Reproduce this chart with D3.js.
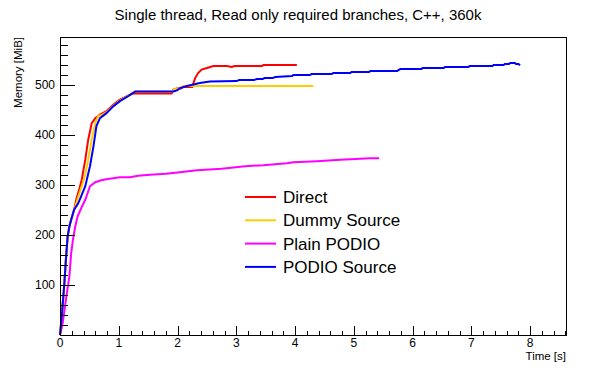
<!DOCTYPE html>
<html>
<head>
<meta charset="utf-8">
<script src="https://cdn.jsdelivr.net/npm/d3@7"></script>
<style>
  body { margin: 0; background: #fff; }
  svg { display: block; font-family: "Liberation Sans", Arial, sans-serif; }
</style>
</head>
<body>
<svg width="596" height="372"></svg>
<script>
// memory vs time, [seconds, MiB]
const direct = [[0,0],[0.034,43],[0.074,103],[0.10,150],[0.13,197],[0.16,217],[0.19,230],[0.24,250],[0.28,272],[0.33,292],
  [0.37,310],[0.43,350],[0.48,390],[0.54,423],[0.60,433],[0.68,440],[0.79,447],[0.91,460],[1.02,470],[1.19,480],[1.25,482],
  [1.90,482],[1.93,490],[2.01,493],[2.05,492],[2.10,495],[2.25,495],[2.27,503],[2.30,513],[2.35,523],[2.41,530],[2.50,533],
  [2.61,537],[2.84,537],[2.92,535],[2.97,537],[3.44,537],[3.46,539],[4.03,539]];
const dummy = [[0,0],[0.034,45],[0.074,105],[0.10,152],[0.13,198],[0.16,218],[0.19,231],[0.24,250],[0.29,268],[0.35,290],
  [0.43,320],[0.48,350],[0.54,390],[0.60,423],[0.65,437],[0.72,440],[0.79,445],[0.91,458],[1.02,468],[1.16,478],[1.28,486],
  [1.92,486],[1.93,490],[2.03,493],[2.10,497],[4.31,497]];
const plainPodio = [[0,0],[0.045,23],[0.10,70],[0.16,117],[0.19,163],[0.22,190],[0.26,217],[0.30,237],[0.36,253],[0.43,270],
  [0.51,297],[0.60,305],[0.70,309],[0.79,311],[1.02,315],[1.19,315],[1.33,318],[1.53,320],[1.80,322],[2.04,325],[2.33,329],
  [2.75,332],[3.15,337],[3.46,339],[3.86,343],[3.97,345],[4.37,347],[4.77,350],[5.28,353],[5.43,353]];
const podioSource = [[0,0],[0.034,43],[0.074,103],[0.10,150],[0.13,197],[0.16,217],[0.19,230],[0.24,250],[0.31,263],[0.37,280],
  [0.43,297],[0.51,337],[0.57,377],[0.62,417],[0.68,433],[0.79,443],[0.91,457],[1.02,467],[1.16,477],[1.28,486],[1.92,486],
  [1.96,487],[2.01,490],[2.04,493],[2.16,497],[2.27,500],[2.38,503],[2.55,506],[3.00,507],[3.05,509],[3.30,509],[3.35,511],
  [3.45,511],[3.48,513],[3.62,513],[3.66,515],[3.95,517],[3.97,519],[4.25,519],[4.28,521],[4.62,521],[4.65,523],[4.94,523],
  [4.96,525],[5.26,525],[5.28,527],[5.74,527],[5.76,529],[5.79,531],[6.15,531],[6.17,533],[6.53,533],[6.55,535],[6.95,535],
  [6.97,537],[7.36,537],[7.38,539],[7.55,539],[7.57,541],[7.64,541],[7.66,543],[7.74,543],[7.76,541],[7.80,541],[7.83,539]];

const seriesNames = ["Direct", "Dummy Source", "Plain PODIO", "PODIO Source"];
const seriesData = [direct, dummy, plainPodio, podioSource];
const colors = ["#ff0000", "#ffcc00", "#ff00ff", "#0000ff"];
const xTicks = [0, 1, 2, 3, 4, 5, 6, 7, 8];
const yTicks = [100, 200, 300, 400, 500];

const svg = d3.select("svg");
const m = { left: 60, right: 566, top: 37, bottom: 335 };

const x = d3.scaleLinear().domain([0, 8.61]).range([m.left, m.right]);
const y = d3.scaleLinear().domain([0, 595]).range([m.bottom, m.top]);

// title
svg.append("text")
  .attr("x", 298).attr("y", 20)
  .attr("text-anchor", "middle")
  .style("font-size", "15px")
  .text("Single thread, Read only required branches, C++, 360k");

// curves
const line = d3.line().x(d => x(d[0])).y(d => y(d[1]));
seriesData.forEach((s, i) => {
  svg.append("path")
    .attr("d", line(s))
    .attr("fill", "none")
    .attr("stroke", colors[i])
    .attr("stroke-width", 2);
});

// frame
svg.append("rect")
  .attr("x", m.left).attr("y", m.top)
  .attr("width", m.right - m.left).attr("height", m.bottom - m.top)
  .attr("fill", "none").attr("stroke", "#000").attr("stroke-width", 1)
  .attr("shape-rendering", "crispEdges");

// x axis, ROOT style ticks pointing in
const xAxis = d3.axisTop(x).tickValues(xTicks).tickSize(9).tickFormat("");
svg.append("g").attr("transform", `translate(0,${m.bottom})`).call(xAxis)
  .call(g => g.select(".domain").remove());
const xMinor = d3.range(0, 8.61, 0.2).filter(v => Math.abs(v - Math.round(v)) > 0.01);
svg.append("g").attr("transform", `translate(0,${m.bottom})`)
  .call(d3.axisTop(x).tickValues(xMinor).tickSize(4.5).tickFormat(""))
  .call(g => g.select(".domain").remove());
svg.selectAll(".xlab").data(xTicks).enter().append("text")
  .attr("x", d => x(d)).attr("y", 347)
  .attr("text-anchor", "middle").style("font-size", "12px")
  .text(d => d);
svg.append("text")
  .attr("x", m.right).attr("y", 360)
  .attr("text-anchor", "end").style("font-size", "11.5px")
  .text("Time [s]");

// y axis
svg.append("g").attr("transform", `translate(${m.left},0)`)
  .call(d3.axisRight(y).tickValues(yTicks).tickSize(15).tickFormat(""))
  .call(g => g.select(".domain").remove());
const yMinor = d3.range(20, 595, 20).filter(v => v % 100 !== 0);
svg.append("g").attr("transform", `translate(${m.left},0)`)
  .call(d3.axisRight(y).tickValues(yMinor).tickSize(7.5).tickFormat(""))
  .call(g => g.select(".domain").remove());
svg.selectAll(".ylab").data(yTicks).enter().append("text")
  .attr("x", 55).attr("y", d => y(d) + 4)
  .attr("text-anchor", "end").style("font-size", "12px")
  .text(d => d);
svg.append("text")
  .attr("transform", `translate(22,${m.top}) rotate(-90)`)
  .attr("text-anchor", "end").style("font-size", "11.5px")
  .text("Memory [MiB]");

svg.selectAll(".tick line").attr("stroke", "#000").attr("shape-rendering", "crispEdges");

// legend
const legend = svg.append("g");
seriesNames.forEach((name, i) => {
  const ly = 197 + i * 23.3;
  legend.append("line")
    .attr("x1", 245).attr("x2", 276).attr("y1", ly).attr("y2", ly)
    .attr("stroke", colors[i]).attr("stroke-width", 2);
  legend.append("text")
    .attr("x", 283).attr("y", ly + 6)
    .style("font-size", "17px")
    .text(name);
});
</script>
</body>
</html>
